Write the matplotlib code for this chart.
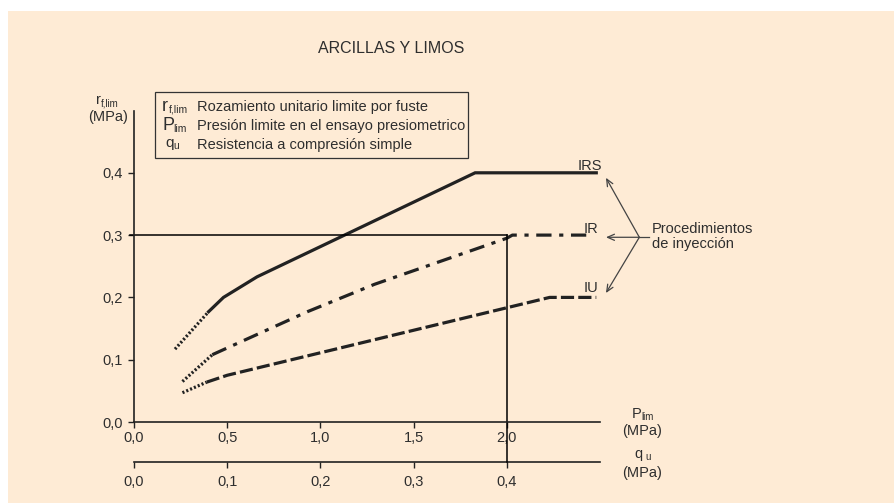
import matplotlib
matplotlib.use("Agg")
import matplotlib.pyplot as plt
from matplotlib.patches import Rectangle

plt.rcParams['font.family'] = ['Liberation Sans', 'DejaVu Sans']
plt.rcParams['lines.scale_dashes'] = False

# datos (P_lim en MPa, r_f,lim en MPa)
irs_dot_x = [0.22, 0.40]
irs_dot_y = [0.117, 0.177]
irs_x = [0.40, 0.48, 0.66, 1.83, 2.48]
irs_y = [0.177, 0.200, 0.233, 0.400, 0.400]

ir_dot_x = [0.26, 0.42]
ir_dot_y = [0.065, 0.108]
ir_x = [0.42, 0.93, 1.29, 2.00, 2.03, 2.45]
ir_y = [0.108, 0.177, 0.221, 0.295, 0.300, 0.300]

iu_dot_x = [0.26, 0.39]
iu_dot_y = [0.047, 0.064]
iu_x = [0.39, 0.50, 2.23, 2.48]
iu_y = [0.064, 0.075, 0.200, 0.200]

# ejemplo de lectura
ref_p = 2.0
ref_r = 0.3

p_ticks = [0.0, 0.5, 1.0, 1.5, 2.0]
p_labels = ['0,0', '0,5', '1,0', '1,5', '2,0']
q_ticks = [0.0, 0.1, 0.2, 0.3, 0.4]
q_labels = ['0,0', '0,1', '0,2', '0,3', '0,4']
r_ticks = [0.0, 0.1, 0.2, 0.3, 0.4]
r_labels = ['0,0', '0,1', '0,2', '0,3', '0,4']

W, H = 894, 503
TXT = '#2e2e2e'
LN = '#222222'


def fp(x, y):
    # pixel -> fraccion de figura
    return x / W, 1 - y / H


fig = plt.figure(figsize=(W / 100, H / 100), dpi=100)
fig.patch.set_facecolor('white')
fig.patches.append(Rectangle((8 / W, 0), 1, 1 - 11 / H, transform=fig.transFigure,
                             facecolor='#FEEBD5', edgecolor='none', zorder=-10))

ax = fig.add_axes([134 / W, 1 - 422 / H, (600 - 134) / W, (422 - 110.5) / H])
ax.set_facecolor('none')
ax.set_xlim(0, 2.5)
ax.set_ylim(0, 0.5)
for s in ['top', 'right']:
    ax.spines[s].set_visible(False)
for s in ['left', 'bottom']:
    ax.spines[s].set_color(LN)
    ax.spines[s].set_linewidth(1.2)

ax.set_xticks(p_ticks)
ax.set_xticklabels(p_labels)
ax.set_yticks(r_ticks)
ax.set_yticklabels(r_labels)
ax.tick_params(axis='both', direction='out', length=4.3, width=1, color=LN,
               labelsize=10.5, labelcolor=TXT)
ax.tick_params(axis='x', pad=2.5)
ax.tick_params(axis='y', pad=3.5)

# segundo eje: q_u = P_lim / 5
sec = ax.secondary_xaxis(-(462 - 422) / 311.5, functions=(lambda p: p / 5, lambda q: q * 5))
sec.set_xticks(q_ticks)
sec.set_xticklabels(q_labels)
sec.spines['bottom'].set_color(LN)
sec.spines['bottom'].set_linewidth(1.2)
sec.tick_params(direction='out', length=4.3, width=1, color=LN, labelsize=10.5,
                labelcolor=TXT, pad=5)

# curvas
ax.plot(irs_dot_x, irs_dot_y, color=LN, lw=2.3, linestyle=(0, (1.5, 1.5)))
ax.plot(irs_x, irs_y, color=LN, lw=2.3, solid_joinstyle='miter')
ax.plot(ir_dot_x, ir_dot_y, color=LN, lw=2.3, linestyle=(0, (1.5, 1.5)))
ax.plot(ir_x, ir_y, color=LN, lw=2.3, linestyle=(0, (11, 5.5, 3, 5.5)), clip_on=False)
ax.plot(iu_dot_x, iu_dot_y, color=LN, lw=2.3, linestyle=(0, (1.5, 1.5)))
ax.plot(iu_x, iu_y, color=LN, lw=2.3, linestyle=(0, (9.5, 3)), clip_on=False)

# lineas de referencia
q_axis_y = -(462 - 422) / 311.5 * 0.5
ax.plot([-0.02, ref_p], [ref_r, ref_r], color='black', lw=1.1, clip_on=False)
ax.plot([ref_p, ref_p], [ref_r, q_axis_y], color='black', lw=1.1, clip_on=False)

# etiquetas de las curvas
ax.text(2.38, 0.405, 'IRS', fontsize=10.5, color=TXT, va='baseline', ha='left')
ax.text(2.41, 0.303, 'IR', fontsize=10.5, color=TXT, va='baseline', ha='left')
ax.text(2.41, 0.208, 'IU', fontsize=10.5, color=TXT, va='baseline', ha='left')

# flechas de procedimientos
src = (2.711, 0.2965)
for tip in [(2.532, 0.392), (2.532, 0.2965), (2.532, 0.207)]:
    ax.annotate('', xy=tip, xytext=src, annotation_clip=False,
                arrowprops=dict(arrowstyle='->,head_length=0.5,head_width=0.22',
                                color='#444444', lw=0.9, shrinkA=0, shrinkB=0))
ax.plot([src[0], 2.763], [src[1], src[1]], color='#444444', lw=0.9, clip_on=False)
fig.text(*fp(652, 233), 'Procedimientos', fontsize=10.5, color=TXT, va='baseline')
fig.text(*fp(652, 248), 'de inyección', fontsize=10.5, color=TXT, va='baseline')

# titulo
fig.text(*fp(391, 53), 'ARCILLAS Y LIMOS', fontsize=11.5, color=TXT, ha='center', va='baseline')

# etiqueta eje y
fig.text(*fp(96, 104), 'r', fontsize=10.5, color=TXT, va='baseline')
fig.text(*fp(101, 106), 'f,lim', fontsize=7, color=TXT, va='baseline')
fig.text(*fp(128, 121), '(MPa)', fontsize=10.5, color=TXT, va='baseline', ha='right')

# etiquetas eje x
fig.text(*fp(632, 418), 'P', fontsize=10.5, color=TXT, va='baseline')
fig.text(*fp(641, 420), 'lim', fontsize=7, color=TXT, va='baseline')
fig.text(*fp(642, 435), '(MPa)', fontsize=10.5, color=TXT, va='baseline', ha='center')
fig.text(*fp(634, 458), 'q', fontsize=10.5, color=TXT, va='baseline')
fig.text(*fp(645, 460), 'u', fontsize=7, color=TXT, va='baseline')
fig.text(*fp(642, 477), '(MPa)', fontsize=10.5, color=TXT, va='baseline', ha='center')

# cuadro de simbolos
fig.patches.append(Rectangle(fp(155, 158), (468 - 155) / W, (158 - 92) / H,
                             transform=fig.transFigure, facecolor='none',
                             edgecolor='#333333', lw=0.9))
fig.text(*fp(162, 111), 'r', fontsize=13, color=TXT, va='baseline')
fig.text(*fp(169, 112), 'f,lim', fontsize=7.5, color=TXT, va='baseline')
fig.text(*fp(197, 111), 'Rozamiento unitario limite por fuste', fontsize=10.5, color=TXT, va='baseline')
fig.text(*fp(162, 130), 'P', fontsize=13, color=TXT, va='baseline')
fig.text(*fp(173, 132), 'lim', fontsize=7.5, color=TXT, va='baseline')
fig.text(*fp(197, 130), 'Presión limite en el ensayo presiometrico', fontsize=10.5, color=TXT, va='baseline')
fig.text(*fp(165, 147), 'q', fontsize=11, color=TXT, va='baseline')
fig.text(*fp(173, 149), 'u', fontsize=7.5, color=TXT, va='baseline')
fig.text(*fp(197, 149), 'Resistencia a compresión simple', fontsize=10.5, color=TXT, va='baseline')

fig.savefig('out.png', dpi=100)
